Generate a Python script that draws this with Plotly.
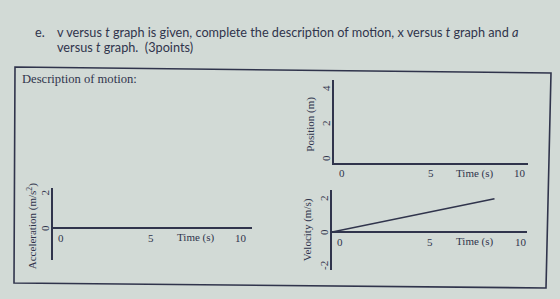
import plotly.graph_objects as go

W, H = 560, 299

# ---- data ----
vel_t = [0, 9]
vel_v = [0, 1.95]
x_ticks = [0, 5, 10]
x_tick_text = ["0", "5", "10"]
acc_y_ticks = [2, 0, -2]
pos_y_ticks = [4, 2, 0]
vel_y_ticks = [2, 0, -2]
acc_y_text = ["2", "0", "-2"]
pos_y_text = ["4", "2", "0"]
vel_y_text = ["2", "0", "-2"]
time_label = "Time (s)"
titles = {"acc": "Acceleration (m/s<sup>2</sup>)", "pos": "Position (m)", "vel": "Velocity (m/s)"}

INK = "#30344c"
BG = "#d2dad6"
SERIF = "Liberation Serif"
SANS = "Lato"

def px(x):
    return x / W

def py(y):
    return 1 - y / H

fig = go.Figure()

fig.add_trace(go.Scatter(x=vel_t, y=vel_v, mode="lines", line=dict(color=INK, width=1.6),
                         xaxis="x3", yaxis="y3", showlegend=False, hoverinfo="skip"))
fig.add_trace(go.Scatter(x=[None], y=[None], xaxis="x", yaxis="y", showlegend=False))
fig.add_trace(go.Scatter(x=[None], y=[None], xaxis="x2", yaxis="y2", showlegend=False))

def xax(dom, rng, zero, anchor):
    return dict(domain=dom, range=rng, showgrid=False, showticklabels=False, ticks="",
                zeroline=False, showline=not zero, linecolor=INK, linewidth=1.6,
                anchor=anchor, fixedrange=True)

def yax(dom, rng, zero, anchor):
    return dict(domain=dom, range=rng, showgrid=False, showticklabels=False, ticks="",
                zeroline=zero, zerolinecolor=INK, zerolinewidth=1.6,
                showline=True, linecolor=INK, linewidth=1.6, anchor=anchor, fixedrange=True)

fig.update_layout(
    xaxis=xax([px(53), px(252)], [0, 11.05], True, "y"),
    yaxis=yax([py(260), py(188)], [-1.81, 2.26], True, "x"),
    xaxis2=xax([px(334), px(528)], [0, 10.9], False, "y2"),
    yaxis2=yax([py(163), py(80)], [-0.29, 4.46], False, "x2"),
    xaxis3=xax([px(332), px(527)], [0, 10.8], True, "y3"),
    yaxis3=yax([py(270), py(190)], [-2.24, 2.47], True, "x3"),
)

ann = []
font_t = dict(family=SERIF, size=11, color=INK)

def add_axes_text(xr, yr, ylo_data, yticks, ytext, title, title_y, tshift):
    for v, t in zip(x_ticks, x_tick_text):
        ann.append(dict(x=v, y=ylo_data, xref=xr, yref=yr, text=t, showarrow=False,
                        xshift=8, yshift=-10, font=font_t))
    ann.append(dict(x=7.5, y=ylo_data, xref=xr, yref=yr, text=time_label, showarrow=False,
                    xshift=8, yshift=-10, font=font_t))
    for v, t in zip(yticks, ytext):
        ann.append(dict(x=0, y=v, xref=xr, yref=yr, text=t, showarrow=False,
                        xshift=-8, textangle=-90, font=font_t))
    ann.append(dict(x=0, y=title_y, xref=xr, yref=yr, text=title, showarrow=False,
                    xshift=tshift, textangle=-90, font=dict(family=SERIF, size=11, color=INK)))

add_axes_text("x", "y", 0, acc_y_ticks, acc_y_text, titles["acc"], 0.1, -21)
add_axes_text("x2", "y2", -0.29, pos_y_ticks, pos_y_text, titles["pos"], 1.9, -23)
add_axes_text("x3", "y3", 0, vel_y_ticks, vel_y_text, titles["vel"], 0.1, -25)

HFONT = dict(family=SANS, size=12.7, color=INK)
ann.append(dict(x=px(33), y=py(32), xref="paper", yref="paper", xanchor="left", yanchor="middle",
                text="e.", showarrow=False, font=HFONT))
ann.append(dict(x=px(55), y=py(32), xref="paper", yref="paper", xanchor="left", yanchor="middle",
                text="v versus <i>t</i> graph is given, complete the description of motion, x versus <i>t</i> graph and <i>a</i>",
                showarrow=False, font=HFONT))
ann.append(dict(x=px(55), y=py(47), xref="paper", yref="paper", xanchor="left", yanchor="middle",
                text="versus <i>t</i> graph.  (3points)",
                showarrow=False, font=HFONT))
ann.append(dict(x=px(20), y=py(79), xref="paper", yref="paper", xanchor="left", yanchor="middle",
                text="Description of motion:", showarrow=False,
                font=dict(family=SERIF, size=12.6, color=INK)))

box_path = "M {} {} L {} {} L {} {} L {} {} Z".format(
    px(15), py(67), px(551), py(73), px(546), py(288), px(14), py(283))

fig.update_layout(
    width=W, height=H, margin=dict(l=0, r=0, t=0, b=0),
    paper_bgcolor=BG, plot_bgcolor="rgba(0,0,0,0)",
    annotations=ann,
    shapes=[dict(type="path", xref="paper", yref="paper", path=box_path,
                 line=dict(color=INK, width=1.6))],
    showlegend=False,
)

fig.write_html("out.html", config={"displayModeBar": False})
